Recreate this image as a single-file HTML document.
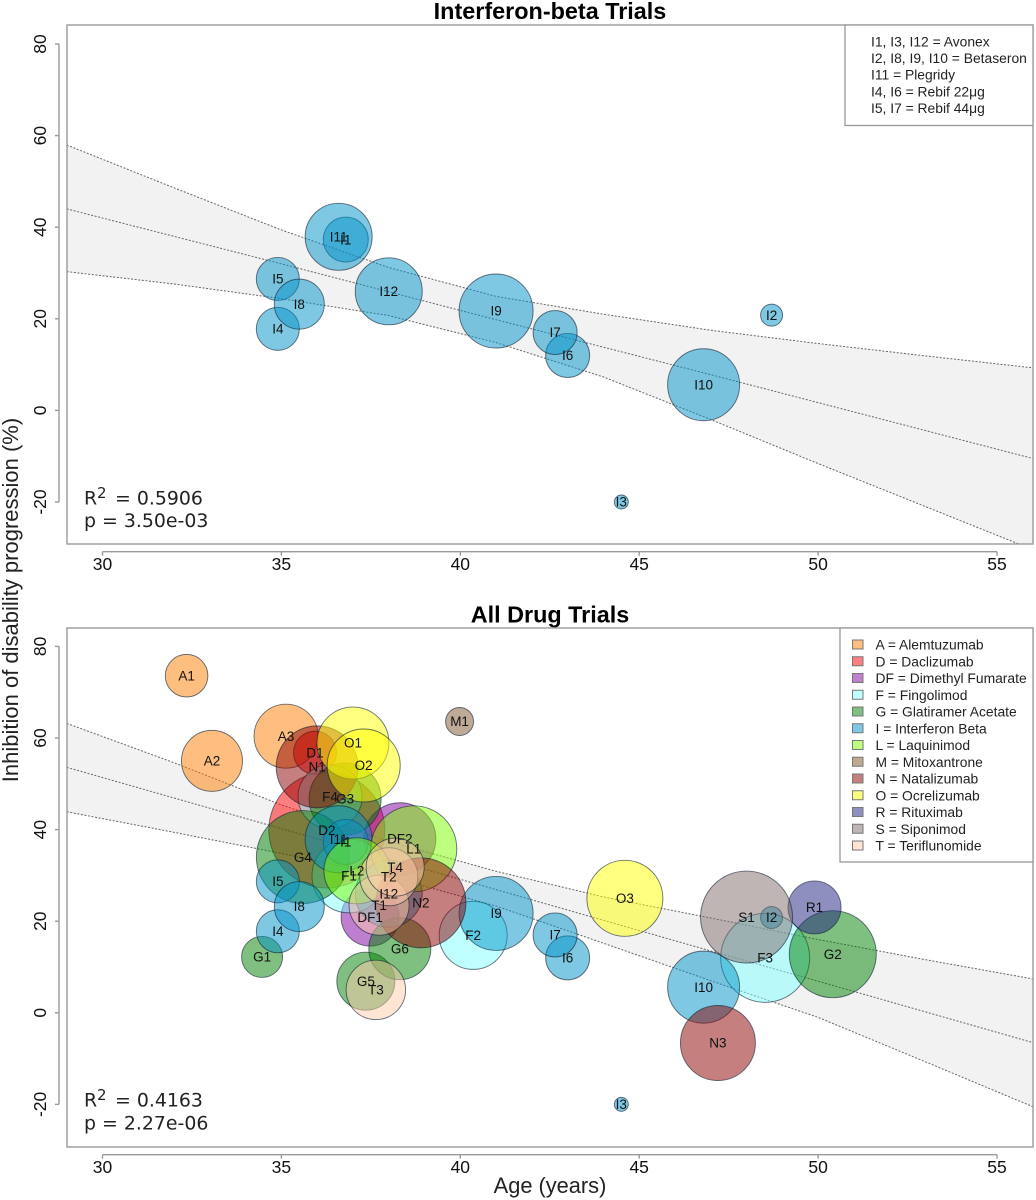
<!DOCTYPE html>
<html lang="en">
<head>
<meta charset="utf-8">
<title>Inhibition of disability progression vs age</title>
<style>
html,body{margin:0;padding:0;background:#fff;}
svg{display:block;}
text{font-family:"Liberation Sans",Arial,sans-serif;fill:#111;}
.stat{font-family:"DejaVu Sans",Verdana,sans-serif;font-size:18.9px;fill:#222;}
.leg{font-size:13.85px;fill:#222;}
.title{font-size:23.4px;font-weight:bold;fill:#000;text-anchor:middle;}
.axt{font-size:22px;fill:#222;text-anchor:middle;}
.swatch{stroke:#777;stroke-width:1;}
</style>
</head>
<body>
<svg id="chart" xmlns="http://www.w3.org/2000/svg" width="1036" height="1200" viewBox="0 0 1036 1200">
  <rect x="0" y="0" width="1036" height="1200" fill="#fff"/>
  <defs>
    <clipPath id="clip-top"><rect x="67" y="25" width="966" height="519"/></clipPath>
    <clipPath id="clip-all"><rect x="67" y="628" width="966" height="519"/></clipPath>
  </defs>
  <text class="title" x="550" y="19">Interferon-beta Trials</text>
  <text class="title" x="550" y="622.5">All Drug Trials</text>
  <text class="axt" transform="translate(18,600) rotate(-90)">Inhibition of disability progression (%)</text>
  <text class="axt" x="550" y="1193" style="font-size:21.8px">Age (years)</text>
  <g id="panel-top"></g>
  <g id="panel-all"></g>

  <g>
    <rect x="845" y="25" width="188" height="100.5" fill="#fff" stroke="#999" stroke-width="1.3"/>
    <text class="leg" x="871" y="46.5">I1, I3, I12 = Avonex</text>
    <text class="leg" x="871" y="63">I2, I8, I9, I10 = Betaseron</text>
    <text class="leg" x="871" y="79.5">I11 = Plegridy</text>
    <text class="leg" x="871" y="96.5">I4, I6 = Rebif 22μg</text>
    <text class="leg" x="871" y="113">I5, I7 = Rebif 44μg</text>
  </g>

  <g>
    <rect x="840" y="628" width="193" height="234" fill="#fff" stroke="#999" stroke-width="1.3"/>
    <rect class="swatch" x="852.5" y="640" width="10.5" height="9" fill="#FDBE7F"/>
    <text class="leg" x="875.5" y="649.5">A = Alemtuzumab</text>
    <rect class="swatch" x="852.5" y="656.75" width="10.5" height="9" fill="#FF7F80"/>
    <text class="leg" x="875.5" y="666.25">D = Daclizumab</text>
    <rect class="swatch" x="852.5" y="673.5" width="10.5" height="9" fill="#C07FCF"/>
    <text class="leg" x="875.5" y="683">DF = Dimethyl Fumarate</text>
    <rect class="swatch" x="852.5" y="690.25" width="10.5" height="9" fill="#BFFFFF"/>
    <text class="leg" x="875.5" y="699.75">F = Fingolimod</text>
    <rect class="swatch" x="852.5" y="707" width="10.5" height="9" fill="#7FBF7F"/>
    <text class="leg" x="875.5" y="716.5">G = Glatiramer Acetate</text>
    <rect class="swatch" x="852.5" y="723.75" width="10.5" height="9" fill="#7FC8E3"/>
    <text class="leg" x="875.5" y="733.25">I = Interferon Beta</text>
    <rect class="swatch" x="852.5" y="740.5" width="10.5" height="9" fill="#BFFF7F"/>
    <text class="leg" x="875.5" y="750">L = Laquinimod</text>
    <rect class="swatch" x="852.5" y="757.25" width="10.5" height="9" fill="#BFA98F"/>
    <text class="leg" x="875.5" y="766.75">M = Mitoxantrone</text>
    <rect class="swatch" x="852.5" y="774" width="10.5" height="9" fill="#C57F7F"/>
    <text class="leg" x="875.5" y="783.5">N = Natalizumab</text>
    <rect class="swatch" x="852.5" y="790.75" width="10.5" height="9" fill="#FFFF7F"/>
    <text class="leg" x="875.5" y="800.25">O = Ocrelizumab</text>
    <rect class="swatch" x="852.5" y="807.5" width="10.5" height="9" fill="#8F8FC0"/>
    <text class="leg" x="875.5" y="817">R = Rituximab</text>
    <rect class="swatch" x="852.5" y="824.25" width="10.5" height="9" fill="#BFB5B5"/>
    <text class="leg" x="875.5" y="833.75">S = Siponimod</text>
    <rect class="swatch" x="852.5" y="841" width="10.5" height="9" fill="#FFE4D4"/>
    <text class="leg" x="875.5" y="850.5">T = Teriflunomide</text>
  </g>

  <g>
    <text class="stat" x="84" y="504.5">R</text>
    <text class="stat" x="97" y="498" style="font-size:15px">2</text>
    <text class="stat" x="115" y="504.5">= 0.5906</text>
    <text class="stat" x="84" y="527">p = 3.50e-03</text>
  </g>
  <g>
    <text class="stat" x="84" y="1106.5">R</text>
    <text class="stat" x="97" y="1100" style="font-size:15px">2</text>
    <text class="stat" x="115" y="1106.5">= 0.4163</text>
    <text class="stat" x="84" y="1129.5">p = 2.27e-06</text>
  </g>
</svg>

<script>
// Axis tick values
const xTicks = [30, 35, 40, 45, 50, 55];
const yTicks = [-20, 0, 20, 40, 60, 80];

// Confidence band sampled at these ages
const bandAges = [29, 32, 35, 38, 41, 44, 47, 50, 53, 56];

// Interferon-beta panel band
const topUpper = [57.95, 48.6, 39.4, 31.2, 24.9, 21, 17.5, 14.6, 11.9, 9.3];
const topFit = [44, 38, 32, 25.9, 19.8, 13.8, 7.8, 1.7, -4.4, -10.5];
const topLower = [30.3, 27.6, 24.4, 20.7, 14.8, 7.3, -2, -11.6, -21, -30.4];

// All-drug panel band
const allUpper = [63.2, 54.6, 45.4, 37.4, 30.9, 25.3, 20.7, 16, 11.6, 7.4];
const allFit = [53.6, 46.9, 40.2, 33.6, 26.9, 20.2, 13.5, 6.9, 0.2, -6.5];
const allLower = [43.9, 39.4, 34.8, 29.8, 23.3, 15.2, 7, -1, -10.7, -20.5];

// Interferon-beta trials
const topLabels = ['I1', 'I2', 'I3', 'I4', 'I5', 'I6', 'I7', 'I8', 'I9', 'I10', 'I11', 'I12'];
const topAges = [36.8, 48.7, 44.5, 34.9, 34.9, 43, 42.65, 35.5, 41, 46.8, 36.6, 38];
const topValues = [37.3, 20.8, -20, 17.8, 28.7, 12, 17, 23.2, 21.7, 5.6, 37.9, 26];
const topSizes = [22.5, 11, 7, 21.5, 21.5, 22, 22, 25, 37, 36, 33.5, 33.5];

// All drug trials
const allLabels = ['A1', 'A2', 'A3', 'D1', 'D2', 'DF1', 'DF2', 'F1', 'F2', 'F3', 'F4', 'G1', 'G2', 'G3', 'G4', 'G5', 'G6', 'I1', 'I2', 'I3', 'I4', 'I5', 'I6', 'I7', 'I8', 'I9', 'I10', 'I11', 'I12', 'L1', 'L2', 'M1', 'N1', 'N2', 'N3', 'O1', 'O2', 'O3', 'R1', 'S1', 'T1', 'T2', 'T3', 'T4'];
const allAges = [32.35, 33.06, 35.13, 35.94, 36.27, 37.48, 38.31, 36.89, 40.36, 48.52, 36.36, 34.46, 50.41, 36.78, 35.6, 37.36, 38.31, 36.8, 48.7, 44.5, 34.9, 34.9, 43, 42.65, 35.5, 41, 46.8, 36.6, 38, 38.7, 37.11, 39.98, 36, 38.9, 47.2, 37, 37.3, 44.6, 49.9, 48, 37.73, 38, 37.64, 38.18];
const allValues = [73.6, 55, 60.4, 56.8, 39.9, 20.9, 38, 29.9, 16.9, 12, 47.2, 12.2, 12.8, 46.7, 34, 6.9, 14, 37.3, 20.8, -20, 17.8, 28.7, 12, 17, 23.2, 21.7, 5.6, 37.9, 26, 35.8, 31, 63.6, 53.7, 24, -6.6, 58.9, 54, 25, 23, 20.9, 23.5, 29.7, 5, 31.8];
const allSizes = [21.3, 30.5, 32, 21.5, 58, 29, 36, 37, 34, 44.5, 32, 20.5, 43.5, 36, 46.5, 29, 31, 22.5, 11, 7, 21.5, 21.5, 22, 22, 25, 37, 36, 33.5, 33.5, 43, 33, 14, 41, 45, 37.5, 36, 36.5, 38, 26.5, 46, 30, 29, 29.7, 29];

const drugColors = {A:'#FB7D00', D:'#FF0000', DF:'#8000A0', F:'#7FFFFF', G:'#008000', I:'#0092C8', L:'#80FF00', M:'#805330', N:'#8B0000', O:'#FFFF00', R:'#202080', S:'#806B6B', T:'#FFCBAA'};

const NS = 'http://www.w3.org/2000/svg';
function xScale(age) { return 102.5 + (age - 30) * 35.78; }
function sizeScale(s) { return s; }
function make(tag, parent, attrs) {
  const el = document.createElementNS(NS, tag);
  for (const k in attrs) el.setAttribute(k, attrs[k]);
  parent.appendChild(el);
  return el;
}

function drawPanel(cfg) {
  const root = document.getElementById(cfg.id);
  const yScale = function (v) { return cfg.y0 - v * 4.58; };
  const clip = make('g', root, {'clip-path': 'url(#' + cfg.clip + ')'});
  
  

  // Band
  let d = '';
  bandAges.forEach(function (a, i) { d += (i ? 'L' : 'M') + xScale(a) + ' ' + yScale(cfg.upper[i]); });
  for (let i = bandAges.length - 1; i >= 0; i--) d += 'L' + xScale(bandAges[i]) + ' ' + yScale(cfg.lower[i]);
  const band = make('path', clip, {d: d + 'Z', fill: '#F2F2F2', stroke: 'none'});
  
  

  [['upper', cfg.upper], ['fit', cfg.fit], ['lower', cfg.lower]].forEach(function (s) {
    const pts = bandAges.map(function (a, i) { return xScale(a) + ',' + yScale(s[1][i]); }).join(' ');
    const line = make('polyline', clip, {points: pts, fill: 'none', stroke: '#666', 'stroke-width': 1, 'stroke-dasharray': '2 1.6'});
    
    
  });

  // Bubbles
  cfg.labels.forEach(function (lab, i) {
    const key = lab.replace(/[0-9]+$/, '');
    const c = make('circle', clip, {cx: xScale(cfg.ages[i]), cy: yScale(cfg.values[i]), r: sizeScale(cfg.sizes[i]), fill: drugColors[key], 'fill-opacity': 0.5, stroke: '#123', 'stroke-opacity': 0.62, 'stroke-width': 0.95});
    
    
  });
  cfg.labels.forEach(function (lab, i) {
    const t = make('text', clip, {x: xScale(cfg.ages[i]), y: yScale(cfg.values[i]) + 4.7, 'text-anchor': 'middle', 'font-size': 13.5});
    t.textContent = lab;
    
    
  });

  // Frame
  const frame = make('rect', root, {x: 67, y: cfg.top, width: 966, height: 519, fill: 'none', stroke: '#999', 'stroke-width': 1.4});
  
  

  // Y axis
  const yAxis = make('g', root, {stroke: '#999', 'stroke-width': 1.4});
  
  
  make('line', yAxis, {x1: 59, x2: 59, y1: yScale(yTicks[0]), y2: yScale(yTicks[yTicks.length - 1])});
  yTicks.forEach(function (v) {
    make('line', yAxis, {x1: 55, x2: 59, y1: yScale(v), y2: yScale(v)});
    const t = make('text', root, {transform: 'translate(46,' + yScale(v) + ') rotate(-90)', 'text-anchor': 'middle', 'font-size': 17.5});
    t.textContent = String(v);
    
    
  });

  // X axis
  const xAxis = make('g', root, {stroke: '#999', 'stroke-width': 1.4});
  
  
  make('line', xAxis, {x1: xScale(xTicks[0]), x2: xScale(xTicks[xTicks.length - 1]), y1: cfg.axisY, y2: cfg.axisY});
  xTicks.forEach(function (v) {
    make('line', xAxis, {x1: xScale(v), x2: xScale(v), y1: cfg.axisY, y2: cfg.axisY + 4});
    const t = make('text', root, {x: xScale(v), y: cfg.axisY + 18.3, 'text-anchor': 'middle', 'font-size': 17.5});
    t.textContent = String(v);
    
    
  });
}

drawPanel({id: 'panel-top', prefix: 'top', clip: 'clip-top', top: 25, y0: 410.4, axisY: 551.7, upper: topUpper, fit: topFit, lower: topLower, labels: topLabels, ages: topAges, values: topValues, sizes: topSizes});
drawPanel({id: 'panel-all', prefix: 'all', clip: 'clip-all', top: 628, y0: 1012.8, axisY: 1154.7, upper: allUpper, fit: allFit, lower: allLower, labels: allLabels, ages: allAges, values: allValues, sizes: allSizes});
</script>
</body>
</html>
